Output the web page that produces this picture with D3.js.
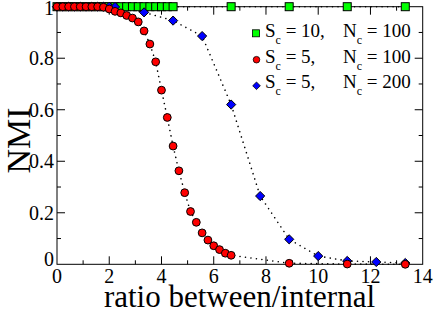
<!DOCTYPE html>
<html><head><meta charset="utf-8">
<script src="https://cdn.jsdelivr.net/npm/d3@7"></script>
<style>body{margin:0;background:#fff}svg{display:block}svg text{font-family:"Liberation Serif","DejaVu Serif",serif}</style>
</head><body>
<script>
// Data
const greenX = [0,0.2222,0.4444,0.6667,0.8889,1.1111,1.3333,1.5556,1.7778,2.0,2.2222,2.4444,2.6667,2.8889,3.1111,3.3333,3.5556,3.7778,4.0,4.2222,4.4444,6.6667,8.8889,11.1111,13.3333];
const greenY = greenX.map(() => 1.0);
const redX = [0,0.2222,0.4444,0.6667,0.8889,1.1111,1.3333,1.5556,1.7778,2.0,2.2222,2.4444,2.6667,2.8889,3.1111,3.3333,3.5556,3.7778,4.0,4.2222,4.4444,4.6667,4.8889,5.1111,5.3333,5.5556,5.7778,6.0,6.2222,6.4444,6.6667,8.8889,11.1111,13.3333];
const redY = [1,1,1,1,1,1,1,1,0.998,0.991,0.982,0.976,0.966,0.956,0.941,0.906,0.855,0.786,0.676,0.570,0.459,0.363,0.278,0.205,0.163,0.122,0.094,0.072,0.057,0.043,0.035,0.004,0.001,0.0];
const blueX = [0,0.2222,0.4444,0.6667,0.8889,1.1111,1.3333,1.5556,1.7778,2.0,2.2222,3.3333,4.4444,5.5556,6.6667,7.7778,8.8889,10.0,11.1111,12.2222,13.3333];
const blueY = [1,1,1,1,1,1,1,1,1,1,0.999,0.978,0.946,0.886,0.620,0.265,0.097,0.032,0.013,0.009,0.005];
const xTicks = [0,2,4,6,8,10,12,14];
const yTicks = [0,0.2,0.4,0.6,0.8,1];
const yTickLabels = ["0","0.2","0.4","0.6","0.8","1"];
const legendS = ["10","5","5"];
const legendN = ["100","100","200"];

const W = 436, H = 311;
const L = 57, R = 422.7, T = 6.7, B = 264.3;
const FONT = "Liberation Serif, DejaVu Serif, serif";
const svg = d3.select("body").append("svg").attr("width", W).attr("height", H)
  .attr("font-family", FONT);
const x = d3.scaleLinear().domain([0,14]).range([L,R]);
const y = d3.scaleLinear().domain([0,1]).range([B,T]);

// frame
svg.append("rect").attr("x",L).attr("y",T).attr("width",R-L).attr("height",B-T)
  .attr("fill","none").attr("stroke","#000").attr("stroke-width",1);

// ticks
const g = svg.append("g").attr("stroke","#000").attr("stroke-width",1);
for (let v=1; v<14; v+=1) {
  const len = v%2===0 ? 8 : 4;
  g.append("line").attr("x1",x(v)).attr("x2",x(v)).attr("y1",B).attr("y2",B-len);
  g.append("line").attr("x1",x(v)).attr("x2",x(v)).attr("y1",T).attr("y2",T+len);
}
for (let i=1; i<10; i++) {
  const v = i/10, len = i%2===0 ? 8 : 4;
  g.append("line").attr("y1",y(v)).attr("y2",y(v)).attr("x1",L).attr("x2",L+len);
  g.append("line").attr("y1",y(v)).attr("y2",y(v)).attr("x1",R).attr("x2",R-len);
}
// tick labels
xTicks.forEach(v => svg.append("text").attr("x",x(v)).attr("y",B+18.5).attr("text-anchor","middle")
  .attr("font-family",FONT).attr("font-size",20).text(String(v)));
yTicks.forEach((v,i) => svg.append("text").attr("x",L-3).attr("y",y(v)+(v===0?2:(v===1?8:7))).attr("text-anchor","end")
  .attr("font-family",FONT).attr("font-size",20).text(yTickLabels[i]));

// axis titles
svg.append("text").attr("x",239.5).attr("y",307).attr("text-anchor","middle")
  .attr("font-family",FONT).attr("font-size",31).text("ratio between/internal");
svg.append("text").attr("transform",`translate(30,${(T+B)/2+5}) rotate(-90)`).attr("text-anchor","middle")
  .attr("font-family",FONT).attr("font-size",34).text("NMI");

// lines
const line = d3.line().x(d=>x(d[0])).y(d=>y(d[1]));
function drawLine(xs, ys){
  svg.append("path").attr("d", line(xs.map((v,i)=>[v,ys[i]])))
    .attr("fill","none").attr("stroke","#000").attr("stroke-width",1.6)
    .attr("stroke-dasharray","0.01,5.5").attr("stroke-linecap","round");
}
drawLine(greenX, greenY);
drawLine(blueX, blueY);
drawLine(redX, redY);

// markers
const sq = 8;
svg.append("g").selectAll("rect").data(greenX.map((v,i)=>[v,greenY[i]])).join("rect")
  .attr("x",d=>x(d[0])-sq/2).attr("y",d=>y(d[1])-sq/2).attr("width",sq).attr("height",sq)
  .attr("fill","#00ff00").attr("stroke","#000").attr("stroke-width",1);
const dm = 4.6;
const diamond = (cx,cy,r)=>`M${cx},${cy-r}L${cx+r},${cy}L${cx},${cy+r}L${cx-r},${cy}Z`;
svg.append("g").selectAll("path").data(blueX.map((v,i)=>[v,blueY[i]])).join("path")
  .attr("d",d=>diamond(x(d[0]),y(d[1]),dm))
  .attr("fill","#0000ff").attr("stroke","#000").attr("stroke-width",1);
svg.append("g").selectAll("circle").data(redX.map((v,i)=>[v,redY[i]])).join("circle")
  .attr("cx",d=>x(d[0])).attr("cy",d=>y(d[1])).attr("r",3.9)
  .attr("fill","#ff0000").attr("stroke","#000").attr("stroke-width",1);

// legend
const ly = [37.3, 62.7, 88.3];
const lg = svg.append("g");
lg.append("rect").attr("x",256-3.5).attr("y",ly[0]-4-3.5).attr("width",7).attr("height",7)
  .attr("fill","#00ff00").attr("stroke","#000").attr("stroke-width",0.8);
lg.append("circle").attr("cx",256.5).attr("cy",ly[1]-3).attr("r",3.3)
  .attr("fill","#ff0000").attr("stroke","#000").attr("stroke-width",0.8);
lg.append("path").attr("d",diamond(256.5,ly[2]-2.5,3.8))
  .attr("fill","#0000ff").attr("stroke","#000").attr("stroke-width",0.8);
ly.forEach((yy,i)=>{
  const t = lg.append("text").attr("y",yy).attr("font-family",FONT).attr("font-size",19);
  t.append("tspan").attr("x",265).text("S");
  t.append("tspan").attr("font-size",12).attr("dy",7).text("c");
  t.append("tspan").attr("dy",-7).text(" = " + legendS[i] + ",");
  t.append("tspan").attr("x",343).text("N");
  t.append("tspan").attr("font-size",12).attr("dy",7).text("c");
  t.append("tspan").attr("dy",-7).text(" = " + legendN[i]);
});
</script>
</body></html>
